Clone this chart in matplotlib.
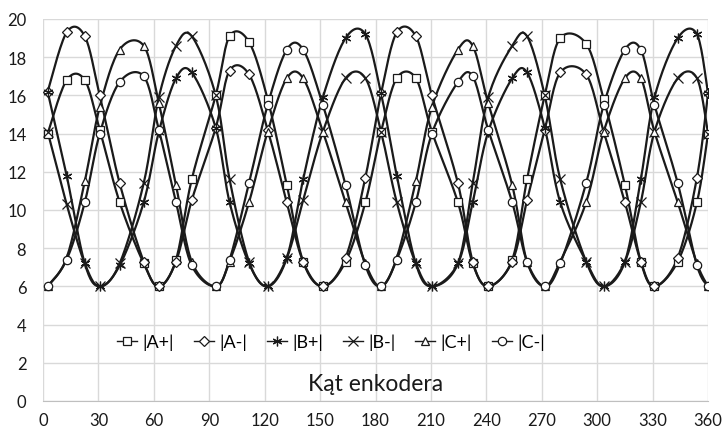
import numpy as np
import matplotlib
matplotlib.use("Agg")
import matplotlib.pyplot as plt

plt.rcParams['font.family'] = ['Lato', 'DejaVu Sans']

# angle of encoder (deg), shared by all series
katy = [2.5, 12.8, 22.6, 30.7, 41.5, 54.5, 62.7, 72, 80.5, 93.5, 101, 111.5,
        121.6, 132, 140.8, 151.5, 163.8, 174.5, 183, 191.5, 201.8, 210.5,
        224.6, 232.6, 241, 254, 262, 271.6, 280, 294, 303.5, 315, 323.6, 331,
        343.6, 354, 360]

a_plus = [14.0, 16.8, 16.8, 14.2, 10.4, 7.2, 6.0, 7.4, 11.6, 16.0, 19.1, 18.8,
          15.8, 11.3, 7.3, 6.0, 7.3, 10.4, 14.1, 16.9, 16.9, 14.1, 10.4, 7.2,
          6.0, 7.4, 11.6, 16.0, 19.0, 18.7, 15.8, 11.3, 7.3, 6.0, 7.3, 10.4, 14.0]
a_minus = [16.2, 19.3, 19.1, 16.0, 11.4, 7.3, 6.0, 7.3, 10.5, 14.3, 17.3, 17.1,
           14.2, 10.4, 7.3, 6.0, 7.5, 11.7, 16.1, 19.3, 19.1, 16.0, 11.4, 7.3,
           6.0, 7.3, 10.5, 14.2, 17.2, 17.1, 14.1, 10.4, 7.3, 6.0, 7.5, 11.7, 16.1]
b_plus = [16.2, 11.8, 7.2, 6.0, 7.1, 10.4, 14.1, 16.9, 17.2, 14.3, 10.4, 7.2,
          6.0, 7.5, 11.6, 15.9, 19.0, 19.2, 16.1, 11.8, 7.2, 6.0, 7.2, 10.4,
          14.1, 16.9, 17.2, 14.3, 10.4, 7.3, 6.0, 7.3, 11.6, 15.9, 19.0, 19.2, 16.1]
b_minus = [14.1, 10.3, 7.2, 6.0, 7.2, 11.4, 15.9, 18.6, 19.1, 16.0, 11.6, 7.3,
           6.0, 7.5, 10.5, 14.1, 16.9, 16.9, 14.1, 10.4, 7.2, 6.0, 7.2, 11.4,
           15.9, 18.6, 19.1, 16.0, 11.6, 7.3, 6.0, 7.3, 10.4, 14.1, 16.9, 16.9, 14.0]
c_plus = [6.0, 7.5, 11.5, 15.4, 18.4, 18.6, 15.6, 11.3, 7.3, 6.0, 7.3, 10.4,
          14.1, 16.9, 16.9, 14.1, 10.4, 7.2, 6.0, 7.5, 11.5, 15.4, 18.4, 18.6,
          15.6, 11.3, 7.3, 6.0, 7.3, 10.4, 14.1, 16.9, 16.9, 14.1, 10.4, 7.2, 6.0]
c_minus = [6.0, 7.4, 10.4, 14.0, 16.7, 17.0, 14.2, 10.4, 7.1, 6.0, 7.4, 11.4,
           15.5, 18.4, 18.4, 15.5, 11.3, 7.1, 6.0, 7.4, 10.4, 14.0, 16.7, 17.0,
           14.2, 10.4, 7.3, 6.0, 7.2, 11.4, 15.5, 18.4, 18.4, 15.5, 11.4, 7.1, 6.0]

nazwy = ["|A+|", "|A-|", "|B+|", "|B-|", "|C+|", "|C-|"]
serie = [a_plus, a_minus, b_plus, b_minus, c_plus, c_minus]
markery = ["s", "D", (6, 2, 0), "x", "^", "o"]
rozmiary = [5.5, 5.5, 7, 6.5, 6, 6]


def wygladz(x, y, n=16):
    # excel-like smoothed line (bezier through points)
    p = np.column_stack([x, y]).astype(float)
    p = np.vstack([p[0], p, p[-1]])
    out = []
    t = np.linspace(0, 1, n, endpoint=False)[:, None]
    for i in range(1, len(p) - 2):
        p0, p1, p2, p3 = p[i - 1], p[i], p[i + 1], p[i + 2]
        c1 = p1 + (p2 - p0) / 6
        c2 = p2 - (p3 - p1) / 6
        seg = ((1 - t) ** 3) * p1 + 3 * ((1 - t) ** 2) * t * c1 + 3 * (1 - t) * t ** 2 * c2 + t ** 3 * p2
        out.append(seg)
    out.append(p[-2][None, :])
    out = np.vstack(out)
    return out[:, 0], out[:, 1]


fig = plt.figure(figsize=(7.23, 4.31), dpi=100)
ax = fig.add_axes([0.0595, 0.0673, 0.9198, 0.8863])

kolor = "#1a1a1a"
for nazwa, wart, m, ms in zip(nazwy, serie, markery, rozmiary):
    xs, ys = wygladz(katy, wart)
    ax.plot(xs, ys, color=kolor, lw=1.6, zorder=2)
    ax.plot(katy, wart, linestyle="none", marker=m, ms=ms, mfc="white",
            mec=kolor, mew=0.9, zorder=3)
    ax.plot([], [], color=kolor, lw=1.0, marker=m, ms=ms, mfc="white",
            mec=kolor, mew=0.9, label=nazwa)

ax.set_xlim(0, 360)
ax.set_ylim(0, 20)
ax.set_xticks(np.arange(0, 361, 30))
ax.set_yticks(np.arange(0, 21, 2))
ax.grid(True, color="#d9d9d9", lw=1.0)
ax.set_axisbelow(True)
for s in ["top", "left", "right"]:
    ax.spines[s].set_visible(False)
ax.spines["bottom"].set_color("#bfbfbf")
ax.tick_params(length=0, labelsize=12, colors="#1a1a1a")
ax.tick_params(axis="y", pad=12)
ax.tick_params(axis="x", pad=8)

ax.text(180, 0.9, "Kąt enkodera", ha="center", va="center", fontsize=16.5,
        color="#1a1a1a")

ax.legend(loc="center", bbox_to_anchor=(0.433, 0.154), ncol=6, frameon=False,
          fontsize=13, handlelength=1.1, handletextpad=0.3, columnspacing=1.1,
          borderpad=0)

fig.savefig("out.png", dpi=100)
